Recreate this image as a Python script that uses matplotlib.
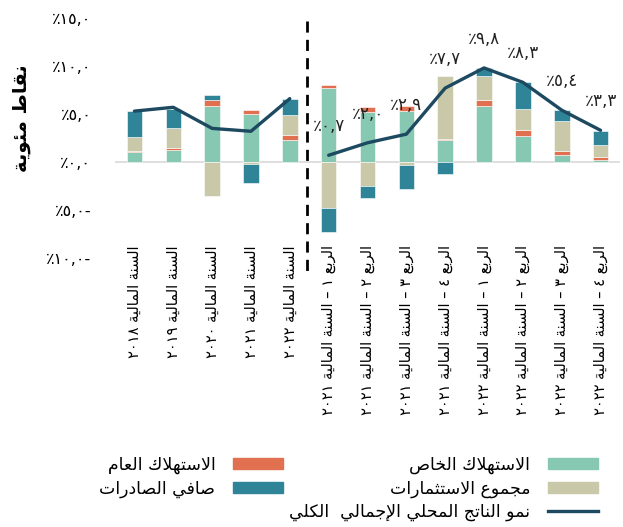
import re
import matplotlib
matplotlib.use("Agg")
import matplotlib.pyplot as plt
from matplotlib.patches import Patch
from matplotlib.lines import Line2D
import matplotlib.transforms as mtransforms

# ---------------- data ----------------
categories = [
    "السنة المالية ٢٠١٨", "السنة المالية ٢٠١٩", "السنة المالية ٢٠٢٠",
    "السنة المالية ٢٠٢١", "السنة المالية ٢٠٢٢",
    "الربع ١ – السنة المالية ٢٠٢١", "الربع ٢ – السنة المالية ٢٠٢١",
    "الربع ٣ – السنة المالية ٢٠٢١", "الربع ٤ – السنة المالية ٢٠٢١",
    "الربع ١ – السنة المالية ٢٠٢٢", "الربع ٢ – السنة المالية ٢٠٢٢",
    "الربع ٣ – السنة المالية ٢٠٢٢", "الربع ٤ – السنة المالية ٢٠٢٢",
]
private_cons = [1.0, 1.2, 5.8, 5.0, 2.3, 7.7, 5.25, 5.3, 2.3, 5.8, 2.75, 0.7, 0.25]
public_cons = [0.1, 0.25, 0.7, 0.4, 0.5, 0.3, 0.45, 0.5, 0.1, 0.7, 0.6, 0.45, 0.28]
investments = [1.5, 2.1, -3.55, -0.25, 2.1, -4.8, -2.5, -0.35, 6.6, 2.45, 2.2, 3.1, 1.2]
net_exports = [2.7, 2.0, 0.5, -1.95, 1.7, -2.5, -1.2, -2.5, -1.3, 0.85, 2.75, 1.15, 1.5]
gdp_growth = [5.3, 5.7, 3.5, 3.2, 6.6, 0.7, 2.0, 2.9, 7.7, 9.8, 8.3, 5.4, 3.3]
n_annual = 5
y_ticks = [-10, -5, 0, 5, 10, 15]

series_names = ["الاستهلاك الخاص", "الاستهلاك العام", "مجموع الاستثمارات", "صافي الصادرات"]
line_name = "نمو الناتج المحلي الإجمالي  الكلي"
ylabel = "نقاط مئوية"

colors = ["#87c8b2", "#e0704f", "#c9c9a9", "#2f8498"]
line_color = "#1d4a60"

# ---------------- Arabic shaping helpers ----------------
_R = {'\u0622': 0xFE81, '\u0623': 0xFE83, '\u0624': 0xFE85, '\u0625': 0xFE87,
      '\u0627': 0xFE8D, '\u0629': 0xFE93, '\u062F': 0xFEA9, '\u0630': 0xFEAB,
      '\u0631': 0xFEAD, '\u0632': 0xFEAF, '\u0648': 0xFEED, '\u0649': 0xFEEF}
_D = {'\u0626': 0xFE89, '\u0628': 0xFE8F, '\u062A': 0xFE95, '\u062B': 0xFE99,
      '\u062C': 0xFE9D, '\u062D': 0xFEA1, '\u062E': 0xFEA5, '\u0633': 0xFEB1,
      '\u0634': 0xFEB5, '\u0635': 0xFEB9, '\u0636': 0xFEBD, '\u0637': 0xFEC1,
      '\u0638': 0xFEC5, '\u0639': 0xFEC9, '\u063A': 0xFECD, '\u0641': 0xFED1,
      '\u0642': 0xFED5, '\u0643': 0xFED9, '\u0644': 0xFEDD, '\u0645': 0xFEE1,
      '\u0646': 0xFEE5, '\u0647': 0xFEE9, '\u064A': 0xFEF1}
_LA = {'\u0622': 0xFEF5, '\u0623': 0xFEF7, '\u0625': 0xFEF9, '\u0627': 0xFEFB}


def _shape(s):
    chars = []
    i = 0
    while i < len(s):
        c = s[i]
        if c == '\u0644' and i + 1 < len(s) and s[i + 1] in _LA:
            chars.append(('LA', s[i + 1]))
            i += 2
        else:
            chars.append(c)
            i += 1

    def kind(t):
        if isinstance(t, tuple):
            return 'R'
        if t in _D:
            return 'D'
        if t in _R:
            return 'R'
        return None

    out = []
    for j, t in enumerate(chars):
        k = kind(t)
        if k is None:
            out.append(t)
            continue
        prev = chars[j - 1] if j > 0 else None
        nxt = chars[j + 1] if j + 1 < len(chars) else None
        jp = prev is not None and kind(prev) == 'D'
        jn = k == 'D' and nxt is not None and kind(nxt) is not None
        if isinstance(t, tuple):
            out.append(chr(_LA[t[1]] + (1 if jp else 0)))
        elif k == 'R':
            out.append(chr(_R[t] + (1 if jp else 0)))
        else:
            idx = 3 if (jp and jn) else 2 if jn else 1 if jp else 0
            out.append(chr(_D[t] + idx))
    return ''.join(out)


def ar(s):
    s = _shape(s)
    toks = re.findall(r'[0-9\u0660-\u0669]+(?:[.,\u066B][0-9\u0660-\u0669]+)*|.', s)
    return ''.join(reversed(toks))


_DIG = str.maketrans("0123456789", "٠١٢٣٤٥٦٧٨٩")


def pct(v):
    s = f"{abs(v):.1f}".replace(".", ",").translate(_DIG)
    return "٪" + s + ("-" if v < 0 else "")


# ---------------- figure ----------------
plt.rcParams['font.family'] = ['DejaVu Sans']
fig = plt.figure(figsize=(6.23, 5.27), dpi=100)
ax = fig.add_axes([115 / 623, (527 - 258) / 527, 505 / 623, 240 / 527])

x = list(range(len(categories)))
width = 0.4
pos_bottom = [0.0] * len(x)
neg_bottom = [0.0] * len(x)
for vals, col in zip([private_cons, public_cons, investments, net_exports], colors):
    bottoms = [pos_bottom[i] if v >= 0 else neg_bottom[i] for i, v in enumerate(vals)]
    ax.bar(x, vals, width, bottom=bottoms, color=col, edgecolor="white", linewidth=0.4, zorder=2)
    for i, v in enumerate(vals):
        if v >= 0:
            pos_bottom[i] += v
        else:
            neg_bottom[i] += v

ax.axhline(0, color="#d9d9d9", lw=1.2, zorder=1)

ax.plot(x[:n_annual], gdp_growth[:n_annual], color=line_color, lw=2.4, zorder=3,
        solid_capstyle="round")
ax.plot(x[n_annual:], gdp_growth[n_annual:], color=line_color, lw=2.4, zorder=3,
        solid_capstyle="round")

for xi, v in zip(x[n_annual:], gdp_growth[n_annual:]):
    ax.annotate(pct(v), (xi, v), xytext=(0, 21), textcoords="offset points",
                ha="center", va="center", fontsize=12, color="#222222")

# dashed separator
ax.plot([4.45, 4.45], [14.7, -11.4], color="black", lw=2, ls=(0, (4, 2.6)),
        clip_on=False, zorder=4)

ax.set_xlim(-0.5, 12.5)
ax.set_ylim(-10, 15)
ax.set_yticks(y_ticks)
ax.set_yticklabels([pct(v) for v in y_ticks], fontsize=11.5)
ax.tick_params(axis="y", length=0, pad=17)
ax.set_xticks([])
for s in ax.spines.values():
    s.set_visible(False)

trans = mtransforms.blended_transform_factory(ax.transData, ax.transAxes)
for xi, lab in zip(x, categories):
    ax.text(xi, 0.054, ar(lab), transform=trans, rotation=90, ha="center", va="top",
            fontsize=10.5)

fig.text(22 / 623, (527 - 118) / 527, ar(ylabel), rotation=90, ha="center", va="center",
         fontsize=14, fontweight="bold")

# legends
h_priv = Patch(color=colors[0])
h_pub = Patch(color=colors[1])
h_inv = Patch(color=colors[2])
h_net = Patch(color=colors[3])
h_line = Line2D([], [], color=line_color, lw=2.4)

common = dict(frameon=False, markerfirst=False, fontsize=12.5, handlelength=2.9,
              handleheight=0.6, labelspacing=0.3, borderpad=0, borderaxespad=0,
              handletextpad=1.0, loc="upper right")
fig.legend([h_priv, h_inv, h_line], [ar(series_names[0]), ar(series_names[2]), ar(line_name)],
           bbox_to_anchor=(598 / 623, (527 - 456) / 527), **common)
fig.legend([h_pub, h_net], [ar(series_names[1]), ar(series_names[3])],
           bbox_to_anchor=(283 / 623, (527 - 456) / 527), **common)

fig.savefig("out.png", dpi=100)
